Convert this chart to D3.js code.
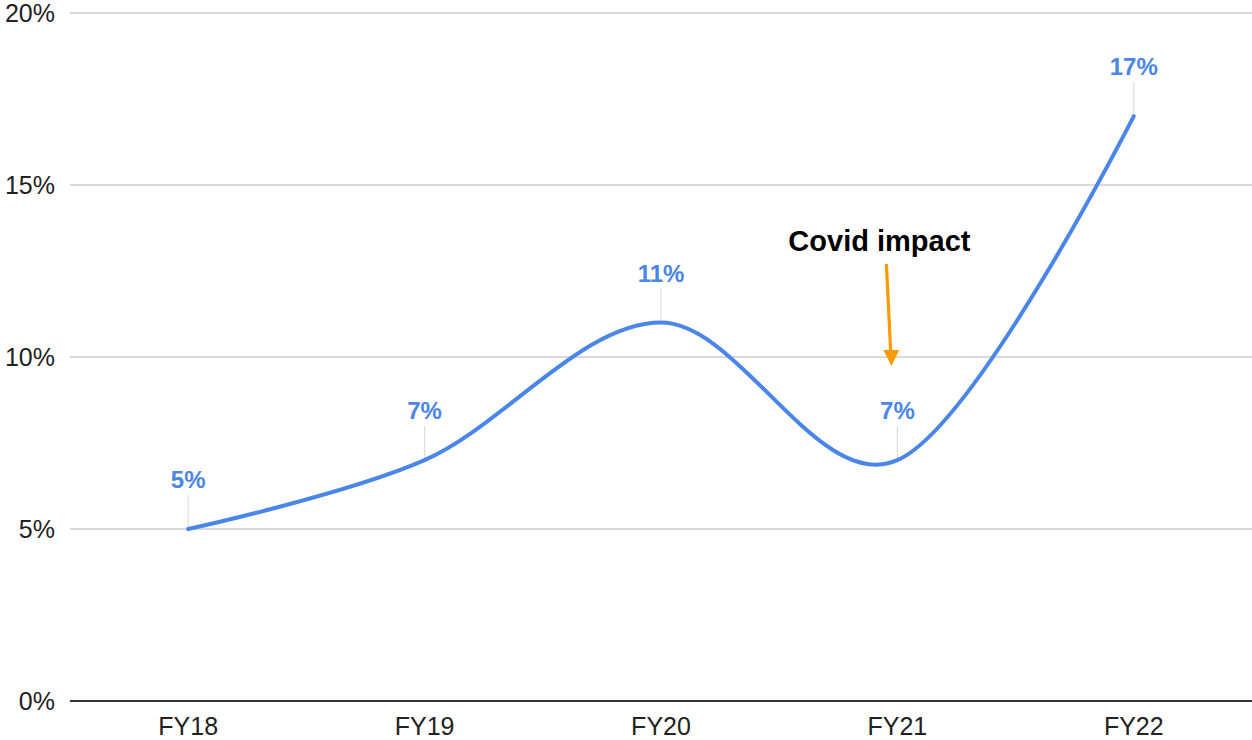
<!DOCTYPE html>
<html>
<head>
<meta charset="utf-8">
<script src="https://cdn.jsdelivr.net/npm/d3@7"></script>
<style>
  html, body { margin: 0; padding: 0; background: #fff; }
  svg { display: block; font-family: "Liberation Sans", Arial, sans-serif; }
</style>
</head>
<body>
<svg id="chart" width="1252" height="740"></svg>
<script>
// Yearly growth rate, fiscal years 2018–2022
const categories = ["FY18", "FY19", "FY20", "FY21", "FY22"];
const growth = [5, 7, 11, 7, 17];
const yTicks = [0, 5, 10, 15, 20];
const annotationText = "Covid impact";
const annotationCategory = "FY21";

const W = 1252, H = 740;
const margin = { top: 13, right: 0, bottom: 39, left: 70 };
const svg = d3.select("#chart");

const x = d3.scaleBand()
  .domain(categories)
  .range([margin.left, W - margin.right])
  .paddingInner(0).paddingOuter(0);

const y = d3.scaleLinear()
  .domain([0, 20])
  .range([H - margin.bottom, margin.top]);

const cx = d => x(d) + x.bandwidth() / 2;
const blue = "#4a86e8";

// horizontal gridlines
svg.append("g")
  .selectAll("line")
  .data(yTicks.filter(t => t !== 0))
  .join("line")
  .attr("x1", margin.left).attr("x2", W - margin.right)
  .attr("y1", d => y(d)).attr("y2", d => y(d))
  .attr("stroke", "#cccccc").attr("stroke-width", 1.3);

// y axis tick labels
svg.append("g")
  .selectAll("text")
  .data(yTicks)
  .join("text")
  .attr("x", 55)
  .attr("y", d => y(d))
  .attr("dy", "0.36em")
  .attr("text-anchor", "end")
  .attr("font-size", 25)
  .attr("fill", "#222")
  .text(d => d + "%");

// baseline
svg.append("line")
  .attr("x1", margin.left).attr("x2", W - margin.right)
  .attr("y1", y(0)).attr("y2", y(0))
  .attr("stroke", "#333").attr("stroke-width", 2);

// x axis labels
svg.append("g")
  .selectAll("text")
  .data(categories)
  .join("text")
  .attr("x", d => cx(d))
  .attr("y", y(0) + 34)
  .attr("text-anchor", "middle")
  .attr("font-size", 25)
  .attr("fill", "#222")
  .text(d => d);

const pts = categories.map((c, i) => ({ c, v: growth[i] }));

// leader lines from points to value labels
svg.append("g")
  .selectAll("line")
  .data(pts)
  .join("line")
  .attr("x1", d => cx(d.c)).attr("x2", d => cx(d.c))
  .attr("y1", d => y(d.v) - 2).attr("y2", d => y(d.v) - 34)
  .attr("stroke", "#dddddd").attr("stroke-width", 1.2);

// smoothed series line
const line = d3.line()
  .x(d => cx(d.c))
  .y(d => y(d.v))
  .curve(d3.curveCardinal.tension(0));

svg.append("path")
  .datum(pts)
  .attr("d", line)
  .attr("fill", "none")
  .attr("stroke", blue)
  .attr("stroke-width", 4)
  .attr("stroke-linecap", "round");

// value labels
svg.append("g")
  .selectAll("text")
  .data(pts)
  .join("text")
  .attr("x", d => cx(d.c))
  .attr("y", d => y(d.v) - 41)
  .attr("text-anchor", "middle")
  .attr("font-size", 24)
  .attr("font-weight", "bold")
  .attr("fill", blue)
  .text(d => d.v + "%");

// annotation: text and arrow pointing down toward FY21
const ax = cx(annotationCategory);
svg.append("text")
  .attr("x", ax - 18)
  .attr("y", 251)
  .attr("text-anchor", "middle")
  .attr("font-size", 29)
  .attr("font-weight", "bold")
  .attr("fill", "#000")
  .text(annotationText);

const orange = "#ff9900";
const tail = [ax - 11, 264], tip = [ax - 6, 366];
svg.append("line")
  .attr("x1", tail[0]).attr("y1", tail[1])
  .attr("x2", tip[0] - 0.7).attr("y2", tip[1] - 14)
  .attr("stroke", orange).attr("stroke-width", 3.2);
svg.append("path")
  .attr("d", `M${tip[0]},${tip[1]} L${tip[0] - 8},${tip[1] - 16} L${tip[0] + 8},${tip[1] - 16} Z`)
  .attr("fill", orange);
</script>
</body>
</html>
